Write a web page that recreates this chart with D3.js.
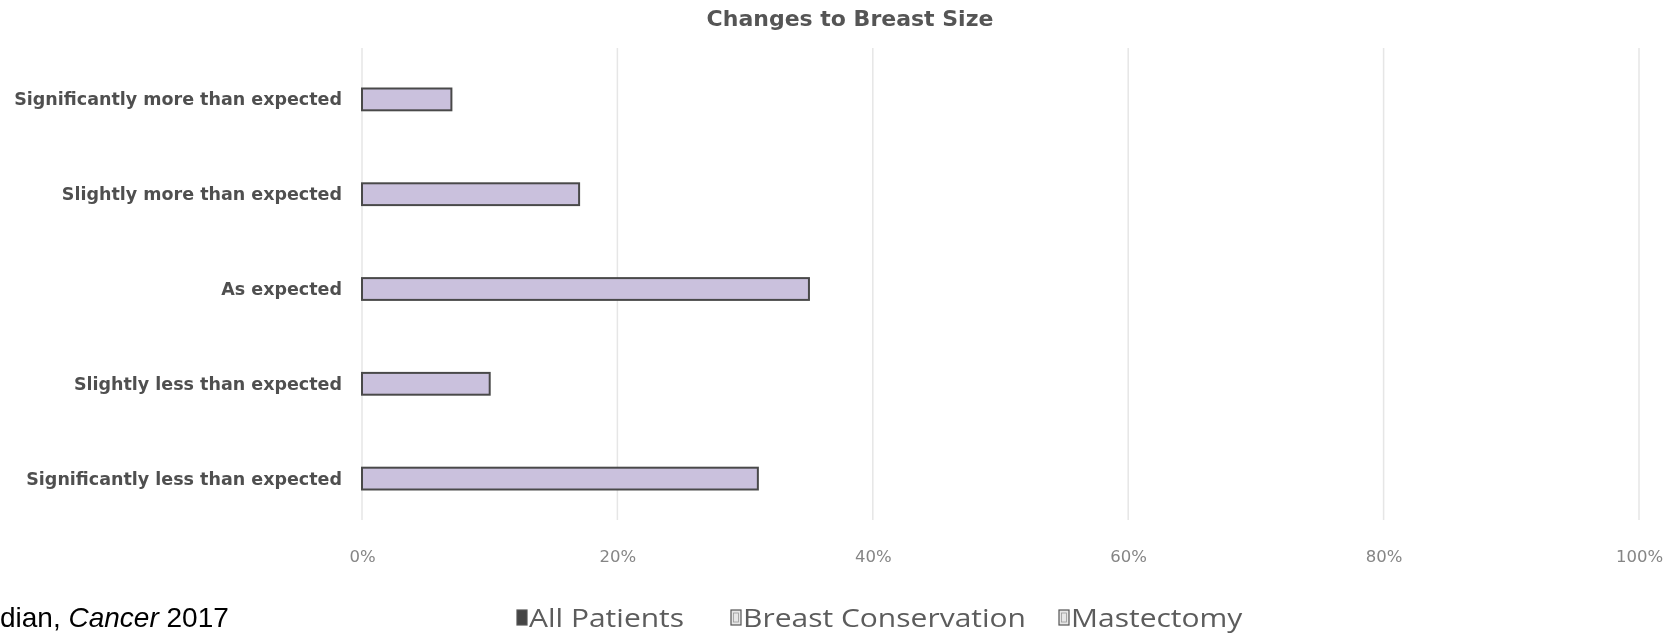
<!DOCTYPE html>
<html>
<head>
<meta charset="utf-8">
<script src="https://cdn.jsdelivr.net/npm/d3@7"></script>
<style>
  html, body { margin: 0; padding: 0; background: #fff; }
  svg { display: block; }
</style>
</head>
<body>
<svg id="chart" width="1677" height="635"></svg>
<script>
// Responses to "Changes to Breast Size", share of all patients
const categories = [
  "Significantly more than expected",
  "Slightly more than expected",
  "As expected",
  "Slightly less than expected",
  "Significantly less than expected"
];
const allPatients = [0.07, 0.17, 0.35, 0.10, 0.31];
const xTicks = [0, 0.2, 0.4, 0.6, 0.8, 1.0];
const legendLabels = ["All Patients", "Breast Conservation", "Mastectomy"];
const titleText = "Changes to Breast Size";

const svg = d3.select("#chart");
const W = 1677, H = 635;

svg.append("rect").attr("width", W).attr("height", H).attr("fill", "#fff");

// soft edge for the embedded chart graphic
const defs = svg.append("defs");
defs.append("filter").attr("id", "soft")
  .attr("x", "-2%").attr("y", "-2%").attr("width", "104%").attr("height", "104%")
  .append("feGaussianBlur").attr("stdDeviation", 0.6);

const chart = svg.append("g").attr("filter", "url(#soft)");

const x = d3.scaleLinear().domain([0, 1]).range([362, 1639]);
const y = d3.scaleBand().domain(categories).range([52, 526])
  .paddingInner(0.77).paddingOuter(0.385);

// vertical gridlines
chart.append("g")
  .selectAll("line")
  .data(xTicks)
  .join("line")
  .attr("x1", d => x(d)).attr("x2", d => x(d))
  .attr("y1", 48).attr("y2", 520)
  .attr("stroke", "#e6e6e6")
  .attr("stroke-width", 1.5);

// x axis tick labels
const xAxis = d3.axisBottom(x).tickValues(xTicks).tickFormat(d3.format(".0%")).tickSize(0).tickPadding(0);
const gx = chart.append("g").attr("transform", "translate(0,550)").call(xAxis);
gx.select(".domain").remove();
gx.selectAll("text")
  .attr("font-family", "'DejaVu Sans', sans-serif")
  .attr("font-size", 16.5)
  .attr("fill", "#858585");

// bars
chart.append("g")
  .selectAll("rect")
  .data(categories)
  .join("rect")
  .attr("x", x(0))
  .attr("y", d => y(d))
  .attr("width", (d, i) => x(allPatients[i]) - x(0))
  .attr("height", y.bandwidth())
  .attr("fill", "#cac1dd")
  .attr("stroke", "#4a4a4a")
  .attr("stroke-width", 2);

// category labels
chart.append("g")
  .selectAll("text")
  .data(categories)
  .join("text")
  .attr("x", 342)
  .attr("y", d => y(d) + y.bandwidth() / 2)
  .attr("dy", "0.34em")
  .attr("text-anchor", "end")
  .attr("font-family", "'DejaVu Sans', sans-serif")
  .attr("font-weight", "bold")
  .attr("font-size", 17.5)
  .attr("fill", "#505050")
  .text(d => d);

// title
chart.append("text")
  .attr("x", 850).attr("y", 26)
  .attr("text-anchor", "middle")
  .attr("font-family", "'DejaVu Sans', sans-serif")
  .attr("font-weight", "bold")
  .attr("font-size", 22)
  .attr("fill", "#555")
  .text(titleText);

// legend
const legendX = [517, 731, 1059];
const legendFill = ["#444", "#e6e6e6", "#e6e6e6"];
const items = chart.append("g").selectAll("g").data(legendLabels).join("g")
  .attr("transform", (d, i) => `translate(${legendX[i]},0)`);
items.append("rect")
  .attr("x", 0).attr("y", 610).attr("width", 10).attr("height", 15)
  .attr("fill", (d, i) => legendFill[i])
  .attr("stroke", "#555").attr("stroke-width", 1.2);
items.filter((d, i) => i > 0).append("rect")
  .attr("x", 2.5).attr("y", 613).attr("width", 5).attr("height", 9)
  .attr("fill", "none")
  .attr("stroke", "#999").attr("stroke-width", 0.8);
items.append("text")
  .attr("x", 0).attr("y", 627)
  .attr("transform", "translate(12,0) scale(1.2,1)")
  .attr("font-family", "'Open Sans', sans-serif")
  .attr("font-size", 25)
  .attr("fill", "#5c5c5c")
  .text(d => d);

// source note
const src = svg.append("text")
  .attr("x", 0).attr("y", 627)
  .attr("font-family", "'Liberation Sans', Arial, sans-serif")
  .attr("font-size", 28)
  .attr("fill", "#000");
src.append("tspan").text("dian, ");
src.append("tspan").attr("font-style", "italic").text("Cancer");
src.append("tspan").text(" 2017");
</script>
</body>
</html>
